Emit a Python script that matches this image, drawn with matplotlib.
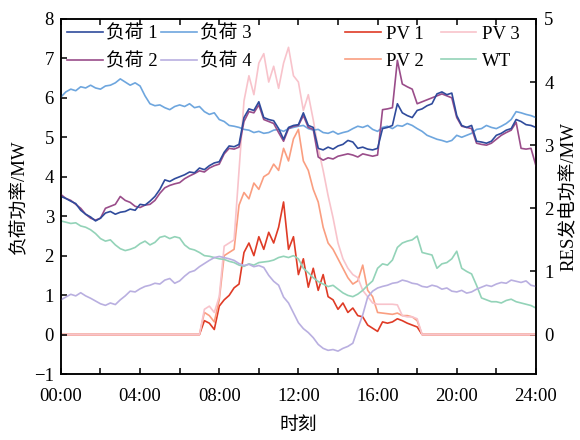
import numpy as np
import matplotlib
matplotlib.use("Agg")
import matplotlib.pyplot as plt
from matplotlib.ticker import MultipleLocator

plt.rcParams['font.family'] = ['Liberation Serif', 'Noto Sans CJK SC']
plt.rcParams['axes.unicode_minus'] = True

# 15-min samples over one day
hours = np.arange(97) * 0.25

# loads, MW (left axis)
load1 = [3.50, 3.45, 3.38, 3.32, 3.15, 3.05, 2.98, 2.88, 2.95, 3.08, 3.12, 3.05,
         3.10, 3.12, 3.18, 3.15, 3.30, 3.28, 3.38, 3.50, 3.68, 3.92, 3.88, 3.95,
         4.00, 4.05, 4.12, 4.10, 4.22, 4.18, 4.28, 4.35, 4.38, 4.62, 4.78, 4.76,
         4.82, 5.50, 5.72, 5.68, 5.90, 5.50, 5.45, 5.42, 5.22, 4.95, 5.25, 5.30,
         5.32, 5.62, 5.30, 5.25, 4.72, 4.68, 4.75, 4.70, 4.78, 4.82, 4.92, 4.88,
         4.72, 4.75, 4.70, 4.68, 4.72, 5.22, 5.25, 5.30, 5.85, 5.62, 5.55, 5.50,
         5.68, 5.72, 5.80, 5.85, 6.10, 6.15, 6.08, 6.12, 5.55, 5.30, 5.25, 5.30,
         4.90, 4.88, 4.85, 4.90, 5.05, 5.10, 5.18, 5.22, 5.45, 5.40, 5.32, 5.30,
         5.25]
load2 = [3.55, 3.45, 3.40, 3.30, 3.20, 3.05, 2.95, 2.90, 2.95, 3.20, 3.25, 3.30,
         3.50, 3.40, 3.35, 3.25, 3.22, 3.28, 3.30, 3.40, 3.58, 3.72, 3.78, 3.82,
         3.85, 3.95, 4.02, 4.08, 4.15, 4.12, 4.22, 4.28, 4.32, 4.58, 4.72, 4.70,
         4.75, 5.40, 5.65, 5.62, 5.82, 5.45, 5.40, 5.35, 5.12, 4.90, 5.22, 5.28,
         5.30, 5.55, 5.25, 5.20, 4.50, 4.42, 4.48, 4.45, 4.52, 4.55, 4.58, 4.55,
         4.50, 4.58, 4.55, 4.52, 4.55, 5.70, 5.72, 5.75, 6.95, 6.35, 6.28, 6.22,
         5.85, 5.90, 5.95, 6.00, 6.05, 6.10, 6.05, 6.00, 5.50, 5.28, 5.25, 5.22,
         4.85, 4.82, 4.80, 4.85, 4.95, 5.05, 5.12, 5.18, 5.38, 4.72, 4.70, 4.72,
         4.28]
load3 = [6.02, 6.15, 6.22, 6.18, 6.28, 6.25, 6.32, 6.25, 6.22, 6.30, 6.32, 6.38,
         6.48, 6.40, 6.32, 6.38, 6.30, 6.05, 5.85, 5.80, 5.82, 5.75, 5.70, 5.78,
         5.82, 5.78, 5.85, 5.75, 5.78, 5.65, 5.58, 5.62, 5.45, 5.40, 5.30, 5.28,
         5.25, 5.20, 5.18, 5.12, 5.15, 5.10, 5.12, 5.18, 5.20, 5.15, 5.22, 5.25,
         5.28, 5.30, 5.22, 5.18, 5.20, 5.12, 5.10, 5.15, 5.08, 5.12, 5.15, 5.22,
         5.28, 5.25, 5.30, 5.20, 5.15, 5.25, 5.28, 5.22, 5.30, 5.28, 5.35, 5.30,
         5.22, 5.15, 5.05, 5.00, 4.95, 4.92, 4.88, 4.92, 5.05, 5.00, 5.05, 5.10,
         5.20, 5.22, 5.30, 5.25, 5.22, 5.28, 5.35, 5.45, 5.65, 5.62, 5.58, 5.55,
         5.50]
load4 = [0.88, 0.95, 1.02, 0.98, 1.06, 0.98, 0.92, 0.85, 0.78, 0.74, 0.80, 0.76,
         0.88, 0.98, 1.10, 1.08, 1.16, 1.22, 1.25, 1.30, 1.28, 1.38, 1.42, 1.30,
         1.36, 1.48, 1.58, 1.62, 1.72, 1.80, 1.88, 1.95, 1.98, 1.95, 1.92, 1.88,
         1.80, 1.75, 1.78, 1.72, 1.75, 1.70, 1.50, 1.35, 1.25, 0.95, 0.80, 0.55,
         0.30, 0.15, 0.05, -0.08, -0.25, -0.35, -0.40, -0.38, -0.42, -0.35, -0.30, -0.22,
         0.15, 0.50, 0.95, 1.10, 1.18, 1.22, 1.25, 1.30, 1.32, 1.38, 1.35, 1.30,
         1.28, 1.22, 1.20, 1.25, 1.22, 1.15, 1.18, 1.10, 1.08, 1.12, 1.05, 1.08,
         1.15, 1.20, 1.25, 1.22, 1.28, 1.32, 1.30, 1.38, 1.35, 1.32, 1.36, 1.25,
         1.22]

# renewable output, MW (right axis); zero before 07:00 and after 18:00
pv1 = [0.0] * 28 + [
    0.00, 0.22, 0.18, 0.08, 0.45, 0.55, 0.62, 0.74, 0.80, 1.30, 1.45, 1.25,
    1.55, 1.35, 1.62, 1.45, 1.70, 2.10, 1.35, 1.55, 0.95, 1.20, 0.75, 1.05,
    0.70, 0.95, 0.60, 0.55, 0.40, 0.50, 0.35, 0.42, 0.30, 0.28, 0.15, 0.10,
    0.05, 0.20, 0.18, 0.20, 0.25, 0.22, 0.18, 0.15, 0.12] + [0.0] * 24
pv2 = [0.0] * 28 + [
    0.00, 0.35, 0.30, 0.20, 0.55, 1.25, 1.30, 1.35, 2.05, 2.25, 2.15, 2.40,
    2.30, 2.50, 2.55, 2.70, 2.60, 2.95, 2.75, 3.10, 3.25, 2.75, 2.60, 2.30,
    2.10, 1.70, 1.45, 1.35, 1.20, 1.05, 0.90, 0.80, 0.85, 1.10, 0.70, 0.60,
    0.35, 0.34, 0.33, 0.32, 0.34, 0.30, 0.30, 0.28, 0.22] + [0.0] * 24
pv3 = [0.0] * 28 + [
    0.00, 0.40, 0.45, 0.35, 0.60, 1.40, 1.45, 1.50, 2.60, 3.70, 4.10, 3.80,
    4.30, 4.45, 4.00, 4.25, 3.90, 4.30, 4.55, 4.10, 4.00, 3.55, 3.80, 3.40,
    2.95, 2.60, 2.20, 1.85, 1.45, 1.20, 1.05, 0.95, 0.90, 0.70, 0.60, 0.50,
    0.48, 0.48, 0.48, 0.48, 0.47, 0.30, 0.28, 0.28, 0.25] + [0.0] * 24
wt = [1.80, 1.78, 1.76, 1.77, 1.72, 1.70, 1.66, 1.60, 1.52, 1.48, 1.50, 1.42,
      1.36, 1.33, 1.35, 1.38, 1.44, 1.48, 1.42, 1.46, 1.54, 1.56, 1.52, 1.55,
      1.53, 1.42, 1.36, 1.34, 1.30, 1.25, 1.24, 1.22, 1.20, 1.19, 1.16, 1.14,
      1.10, 1.08, 1.12, 1.10, 1.14, 1.15, 1.16, 1.18, 1.22, 1.24, 1.22, 1.25,
      1.20, 1.05, 0.98, 0.90, 0.84, 0.80, 0.76, 0.78, 0.72, 0.66, 0.62, 0.60,
      0.64, 0.70, 0.78, 0.85, 1.05, 1.12, 1.10, 1.18, 1.38, 1.45, 1.48, 1.50,
      1.56, 1.30, 1.28, 1.26, 1.05, 1.12, 1.14, 1.20, 1.32, 1.05, 1.00, 0.96,
      0.78, 0.58, 0.55, 0.52, 0.52, 0.50, 0.54, 0.56, 0.52, 0.50, 0.48, 0.46,
      0.42]

xticks = [0, 4, 8, 12, 16, 20, 24]
xticklabels = ['00:00', '04:00', '08:00', '12:00', '16:00', '20:00', '24:00']

fig = plt.figure(figsize=(5.8, 4.4), dpi=100)
ax1 = fig.add_axes([0.105, 0.15, 0.819, 0.807])
ax2 = ax1.twinx()

lw = 1.2
r1, = ax2.plot(hours, pv1, color='#df3b26', lw=lw, label='PV 1')
r2, = ax2.plot(hours, pv2, color='#fa9e80', lw=lw, label='PV 2')
r3, = ax2.plot(hours, pv3, color='#f8c3cb', lw=lw, label='PV 3')
r4, = ax2.plot(hours, wt, color='#93d3b8', lw=lw, label='WT')

l4, = ax1.plot(hours, load4, color='#b9afe0', lw=lw, label='负荷 4')
l3, = ax1.plot(hours, load3, color='#6ea6de', lw=lw, label='负荷 3')
l2, = ax1.plot(hours, load2, color='#9a4d8a', lw=lw, label='负荷 2')
l1, = ax1.plot(hours, load1, color='#2f4b9c', lw=lw, label='负荷 1')

# loads drawn above the RES curves
ax1.set_zorder(ax2.get_zorder() + 1)
ax1.patch.set_visible(False)

ax1.set_xlim(0, 24)
ax1.set_ylim(-1, 8)
ax2.set_ylim(-0.625, 5)
ax1.set_xticks(xticks)
ax1.set_xticklabels(xticklabels)
ax1.xaxis.set_minor_locator(MultipleLocator(2))
ax1.yaxis.set_major_locator(MultipleLocator(1))
ax2.set_yticks([0, 1, 2, 3, 4, 5])

fs = 13.5
ax1.tick_params(axis='x', which='both', direction='in', top=True, length=4.5, width=1.1,
                labelsize=fs, pad=10)
ax1.tick_params(axis='y', direction='in', length=4.5, width=1.1, labelsize=fs, right=False, pad=5)
ax2.tick_params(axis='y', direction='in', length=4.5, width=1.1, labelsize=fs, pad=6)
for ax in (ax1, ax2):
    for s in ax.spines.values():
        s.set_linewidth(1.1)

ax1.set_xlabel('时刻', fontsize=fs, labelpad=9)
ax1.set_ylabel('负荷功率/MW', fontsize=fs, labelpad=4)
ax2.set_ylabel('RES发电功率/MW', fontsize=fs, labelpad=5)

ax1.legend(handles=[l1, l2, l3, l4], ncol=2, loc='upper left', frameon=False,
           fontsize=fs, handlelength=1.9, columnspacing=0.2, handletextpad=0.15,
           labelspacing=0.55, borderaxespad=0.3, borderpad=0.05)
ax2.legend(handles=[r1, r2, r3, r4], ncol=2, loc='upper right', frameon=False,
           bbox_to_anchor=(0.98, 1.0),
           fontsize=fs, handlelength=1.9, columnspacing=0.9, handletextpad=0.3,
           labelspacing=0.55, borderaxespad=0.3, borderpad=0.05)

fig.savefig('out.png', dpi=100)
